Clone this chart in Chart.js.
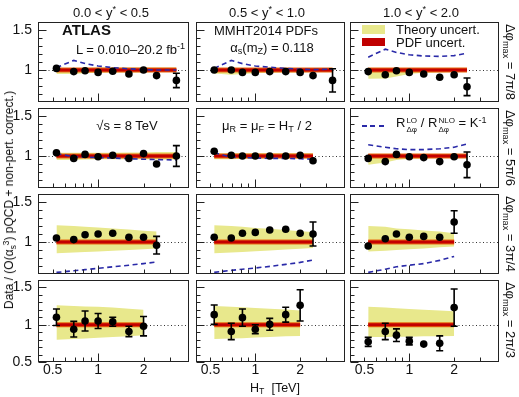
<!DOCTYPE html>
<html>
<head>
<meta charset="utf-8">
<script src="https://cdn.jsdelivr.net/npm/chart.js@4.4.1/dist/chart.umd.min.js"></script>
<style>
  body { margin: 0; background: #fff; }
  #page { position: relative; width: 519px; height: 397px; overflow: hidden;
          font-family: "Liberation Sans", Arial, sans-serif; color: #111; }
  canvas.panel { position: absolute; }
  .txt { position: absolute; white-space: nowrap; font-size: 13px; line-height: 1; }
  sub, sup { font-size: 70%; line-height: 0; }
  sub { vertical-align: -0.3em; }
  sup { vertical-align: 0.5em; }
  .ss { display: inline-flex; flex-direction: column; font-size: 62%; line-height: 1.1;
        vertical-align: 0.45em; margin-left: 1px; }
  .sw { position: absolute; }
</style>
</head>
<body>
<div id="page"></div>
<script>
// H_T bin centres in TeV (same binning in every panel)
const htBins = [0.53, 0.69, 0.82, 1.0, 1.25, 1.6, 2.0, 2.44, 3.3];
// column / row labels
const yStarEdges = ['0.0', '0.5', '1.0', '2.0'];
const dphiMax = ['7π/8', '5π/6', '3π/4', '2π/3'];
// tick labels and tick marks
const xTickLabels = [0.5, 1, 2];
const xMajorTicks = [1];
const xMinorTicks = [0.5, 0.6, 0.7, 0.8, 0.9, 2, 3];
const yTickLabels = [1, 1.5];
const yTickLabelsLow = [0.5, 1, 1.5];
const yMinorTicks = [0.6, 0.7, 0.8, 0.9, 1.1, 1.2, 1.3, 1.4];

// data / theory, one list per panel [row = dphi_max][col = y*]
const ratio = [
  [[1.02, 0.98, 0.99, 0.97, 0.985, 0.95, 1.0, 0.93, 0.87],
   [1.0, 1.0, 0.97, 0.97, 0.98, 0.98, 0.97, 0.93, 0.87],
   [0.98, 0.94, 0.99, 0.97, 0.95, 0.91, 0.94, 0.79]],
  [[1.04, 0.97, 1.02, 0.99, 1.01, 0.97, 1.03, 0.90, 1.0],
   [1.06, 1.01, 1.0, 1.0, 1.0, 1.0, 1.01, 0.94],
   [0.97, 0.93, 1.02, 0.99, 0.98, 0.93, 0.99, 0.89]],
  [[1.05, 1.03, 1.09, 1.10, 1.11, 1.06, 1.06, 0.96],
   [1.06, 1.05, 1.11, 1.12, 1.15, 1.16, 1.11, 1.10],
   [0.95, 1.04, 1.10, 1.06, 1.07, 1.06, 1.25]],
  [[1.10, 0.94, 1.05, 1.05, 1.04, 0.91, 0.98],
   [1.135, 0.91, 1.095, 0.94, 1.005, 1.135, 1.26],
   [0.77, 0.91, 0.86, 0.78, 0.74, 0.75, 1.23]]
];
const ratioErr = [
  [[0.005, 0.005, 0.005, 0.005, 0.005, 0.005, 0.008, 0.02, 0.09],
   [0.005, 0.005, 0.005, 0.005, 0.005, 0.008, 0.01, 0.03, 0.145],
   [0.005, 0.005, 0.005, 0.005, 0.005, 0.01, 0.025, 0.11]],
  [[0.005, 0.005, 0.005, 0.005, 0.005, 0.008, 0.01, 0.035, 0.13],
   [0.005, 0.005, 0.005, 0.005, 0.005, 0.005, 0.01, 0.04],
   [0.005, 0.005, 0.005, 0.005, 0.005, 0.01, 0.04, 0.16]],
  [[0.03, 0.04, 0.03, 0.03, 0.015, 0.015, 0.04, 0.11],
   [0.03, 0.035, 0.03, 0.02, 0.015, 0.02, 0.04, 0.15],
   [0.03, 0.04, 0.04, 0.02, 0.02, 0.03, 0.14]],
  [[0.11, 0.105, 0.135, 0.10, 0.06, 0.07, 0.13],
   [0.13, 0.11, 0.115, 0.06, 0.08, 0.10, 0.21],
   [0.06, 0.11, 0.085, 0.05, 0.04, 0.10, 0.25]]
];
// theory uncertainty band edges
const theoryLo = [
  [[0.95, 0.95, 0.96, 0.965, 0.97, 0.97, 0.97, 0.975, 0.975],
   [0.955, 0.94, 0.95, 0.96, 0.965, 0.97, 0.97, 0.975, 0.975],
   [0.89, 0.895, 0.92, 0.95, 0.965, 0.97, 0.975, 0.975]],
  [[0.95, 0.95, 0.955, 0.96, 0.96, 0.96, 0.96, 0.955, 0.955],
   [0.96, 0.96, 0.965, 0.97, 0.97, 0.97, 0.97, 0.97],
   [0.89, 0.92, 0.95, 0.965, 0.97, 0.975, 0.975, 0.975]],
  [[0.86, 0.87, 0.875, 0.88, 0.89, 0.9, 0.91, 0.92],
   [0.86, 0.87, 0.875, 0.885, 0.895, 0.905, 0.915, 0.925],
   [0.88, 0.89, 0.9, 0.91, 0.92, 0.935, 0.945]],
  [[0.80, 0.81, 0.815, 0.825, 0.835, 0.845, 0.86],
   [0.81, 0.815, 0.82, 0.83, 0.835, 0.845, 0.85],
   [0.835, 0.835, 0.84, 0.84, 0.845, 0.845, 0.85]]
];
const theoryHi = [
  [[1.025, 1.025, 1.025, 1.03, 1.03, 1.03, 1.03, 1.03, 1.03],
   [1.025, 1.025, 1.025, 1.025, 1.025, 1.025, 1.025, 1.025, 1.025],
   [1.02, 1.02, 1.02, 1.02, 1.02, 1.02, 1.02, 1.02]],
  [[1.04, 1.04, 1.04, 1.04, 1.04, 1.045, 1.045, 1.05, 1.05],
   [1.035, 1.035, 1.035, 1.035, 1.035, 1.035, 1.035, 1.035],
   [1.02, 1.02, 1.02, 1.02, 1.02, 1.025, 1.025, 1.025]],
  [[1.21, 1.2, 1.19, 1.18, 1.17, 1.155, 1.14, 1.13],
   [1.21, 1.2, 1.19, 1.175, 1.165, 1.15, 1.135, 1.125],
   [1.2, 1.19, 1.17, 1.16, 1.145, 1.13, 1.11]],
  [[1.26, 1.25, 1.245, 1.24, 1.23, 1.215, 1.2],
   [1.25, 1.24, 1.235, 1.225, 1.215, 1.205, 1.19],
   [1.24, 1.23, 1.22, 1.21, 1.2, 1.19, 1.18]]
];
// R(LO)/R(NLO) = 1/K, off scale in the last row
const kInv = [
  [[1.03, 1.12, 1.08, 1.05, 1.03, 1.015, 1.005, 1.0, 1.0],
   [1.02, 1.12, 1.08, 1.05, 1.035, 1.02, 1.01, 1.005, 1.01],
   [1.16, 1.26, 1.22, 1.19, 1.175, 1.17, 1.18, 1.21]],
  [[1.03, 0.99, 0.985, 0.98, 0.975, 0.965, 0.96, 0.955, 0.95],
   [1.04, 0.985, 0.98, 0.975, 0.97, 0.97, 0.965, 0.96],
   [1.14, 1.11, 1.09, 1.08, 1.08, 1.09, 1.11, 1.15]],
  [[0.62, 0.64, 0.655, 0.67, 0.69, 0.71, 0.73, 0.75],
   [0.62, 0.645, 0.66, 0.675, 0.695, 0.72, 0.745, 0.775],
   [0.62, 0.66, 0.69, 0.71, 0.73, 0.77, 0.82]],
  [null, null, null]
];

const page = document.getElementById('page');
const colLeft = [38, 194, 348];
const rowTop = [20, 106, 192, 278];
const panelW = 153, panelH = 84;
const yellow = 'rgb(232,232,140)';
const tickFont = { family: 'Liberation Sans, Arial, sans-serif', size: 14 };

// frame, inner ticks, dotted line at 1 and error bars
const decor = {
  id: 'decor',
  beforeDatasetsDraw(chart) {
    const { ctx, chartArea: a, scales: { y } } = chart;
    const py = Math.round(y.getPixelForValue(1)) + 0.5;
    ctx.save();
    ctx.strokeStyle = '#333';
    ctx.lineWidth = 1;
    ctx.setLineDash([1, 2.5]);
    ctx.beginPath();
    ctx.moveTo(a.left, py);
    ctx.lineTo(a.right, py);
    ctx.stroke();
    ctx.restore();
  },
  beforeDatasetDraw(chart, args) {
    if (args.index !== 0) return;
    const ds = chart.data.datasets[0];
    const { ctx, scales: { x, y } } = chart;
    ctx.save();
    ctx.strokeStyle = '#000';
    ctx.lineWidth = 1.6;
    ds.data.forEach((p, i) => {
      const px = x.getPixelForValue(p.x);
      const y1 = y.getPixelForValue(p.y - ds.errors[i]);
      const y2 = y.getPixelForValue(p.y + ds.errors[i]);
      if (y1 - y2 < 7) return;
      ctx.beginPath();
      ctx.moveTo(px, y1); ctx.lineTo(px, y2);
      ctx.moveTo(px - 3.5, y1); ctx.lineTo(px + 3.5, y1);
      ctx.moveTo(px - 3.5, y2); ctx.lineTo(px + 3.5, y2);
      ctx.stroke();
    });
    ctx.restore();
  },
  afterDraw(chart) {
    const { ctx, chartArea: a, scales: { x, y } } = chart;
    const L = Math.round(a.left) + 0.5, R = Math.round(a.right) - 0.5;
    const T = Math.round(a.top) + 0.5, B = Math.round(a.bottom) - 0.5;
    ctx.save();
    ctx.strokeStyle = '#222';
    ctx.lineWidth = 1;
    ctx.strokeRect(L, T, R - L, B - T);
    ctx.beginPath();
    y.ticks.forEach(t => {
      const py = Math.round(y.getPixelForValue(t.value)) + 0.5;
      ctx.moveTo(L, py); ctx.lineTo(L + 8, py);
    });
    yMinorTicks.filter(v => v > y.min && v < y.max).forEach(v => {
      const py = Math.round(y.getPixelForValue(v)) + 0.5;
      ctx.moveTo(L, py); ctx.lineTo(L + 4, py);
    });
    xMajorTicks.forEach(v => {
      const px = Math.round(x.getPixelForValue(v)) + 0.5;
      ctx.moveTo(px, B); ctx.lineTo(px, B - 8);
    });
    xMinorTicks.forEach(v => {
      const px = Math.round(x.getPixelForValue(v)) + 0.5;
      ctx.moveTo(px, B); ctx.lineTo(px, B - 4);
    });
    ctx.stroke();
    ctx.restore();
  }
};

function makePanel(r, c) {
  const n = ratio[r][c].length;
  const xs = htBins.slice(0, n);
  const pts = arr => arr.map((v, i) => ({ x: xs[i], y: v }));
  const showY = c === 0, showX = r === 3;
  const padL = showY ? 38 : 2, padB = showX ? 24 : 2;

  const cv = document.createElement('canvas');
  cv.className = 'panel';
  cv.width = panelW + padL + 2;
  cv.height = panelH + 2 + padB;
  cv.style.left = (colLeft[c] - padL) + 'px';
  cv.style.top = (rowTop[r] - 2) + 'px';
  cv.style.width = cv.width + 'px';
  cv.style.height = cv.height + 'px';
  page.appendChild(cv);

  const datasets = [
    { data: pts(ratio[r][c]), errors: ratioErr[r][c], showLine: false, pointRadius: 3.8,
      pointBackgroundColor: '#000', pointBorderColor: '#000', pointBorderWidth: 0, order: 0 },
    { data: pts(xs.map(() => 1)), borderColor: '#c40000', borderWidth: 3, pointRadius: 0, order: 2 },
    { data: pts(xs.map(() => 1)), borderColor: '#e86a10', borderWidth: 5, pointRadius: 0, order: 3 },
    { data: pts(theoryHi[r][c]), borderColor: 'rgba(0,0,0,0)', borderWidth: 0, pointRadius: 0,
      fill: '+1', backgroundColor: yellow, order: 4 },
    { data: pts(theoryLo[r][c]), borderColor: 'rgba(0,0,0,0)', borderWidth: 0, pointRadius: 0,
      fill: false, order: 5 }
  ];
  if (kInv[r][c]) {
    datasets.push({ data: pts(kInv[r][c]), borderColor: '#2a2aa8', borderWidth: 1.6,
      borderDash: [5, 3.5], pointRadius: 0, order: 1 });
  }

  new Chart(cv, {
    type: 'line',
    data: { datasets },
    options: {
      responsive: false,
      devicePixelRatio: 1,
      animation: false,
      events: [],
      layout: { padding: 2 },
      plugins: { legend: { display: false }, tooltip: { enabled: false } },
      scales: {
        x: {
          type: 'logarithmic', min: 0.4, max: 4, display: showX,
          grid: { display: false, drawTicks: false }, border: { display: false },
          ticks: { autoSkip: false, maxRotation: 0, padding: 0, font: tickFont, color: '#111',
                   callback: v => String(v) },
          afterBuildTicks: s => { s.ticks = xTickLabels.map(v => ({ value: v })); },
          afterFit: s => { s.height = showX ? 22 : 0; s.paddingLeft = 0; s.paddingRight = 0; }
        },
        y: {
          type: 'linear', min: r === 3 ? 0.5 : 0.6, max: 1.6, display: showY,
          grid: { display: false, drawTicks: false }, border: { display: false },
          ticks: { autoSkip: false, padding: 6, font: tickFont, color: '#111',
                   callback: v => String(v) },
          afterBuildTicks: s => {
            s.ticks = (r === 3 ? yTickLabelsLow : yTickLabels).map(v => ({ value: v }));
          },
          afterFit: s => { s.width = showY ? 36 : 0; s.paddingTop = 0; s.paddingBottom = 0; }
        }
      }
    },
    plugins: [decor]
  });
}

for (let r = 0; r < 4; r++) {
  for (let c = 0; c < 3; c++) makePanel(r, c);
}

// text
function addText(html, x, y, opts = {}) {
  const d = document.createElement('div');
  d.className = 'txt';
  d.innerHTML = html;
  d.style.left = x + 'px';
  d.style.top = y + 'px';
  if (opts.size) d.style.fontSize = opts.size + 'px';
  if (opts.bold) d.style.fontWeight = 'bold';
  let tf = opts.left ? 'translate(0,-50%)' : 'translate(-50%,-50%)';
  if (opts.rot) tf += ' rotate(' + opts.rot + 'deg)';
  d.style.transform = tf;
  page.appendChild(d);
}
function addSwatch(x, y, w, h, bg) {
  const d = document.createElement('div');
  d.className = 'sw';
  Object.assign(d.style, { left: x + 'px', top: y + 'px', width: w + 'px', height: h + 'px', background: bg });
  page.appendChild(d);
}

for (let c = 0; c < 3; c++) {
  addText(`${yStarEdges[c]} &lt; y<sup>*</sup> &lt; ${yStarEdges[c + 1]}`, colLeft[c] + 73, 12);
}
for (let r = 0; r < 4; r++) {
  addText(`Δφ<sub>max</sub> = ${dphiMax[r]}`, 510, rowTop[r] + 42, { rot: 90 });
}
addText('Data / (O(α<sub>s</sub><sup>3</sup>) pQCD + non-pert. correct.)', 9, 200, { size: 12, rot: -90 });
addText('H<sub>T</sub> &nbsp;[TeV]', 275, 388, { size: 12.5 });

addText('ATLAS', 62, 29, { left: true, bold: true, size: 15 });
addText('L = 0.010–20.2 fb<sup>-1</sup>', 76, 49, { left: true });
addText('MMHT2014 PDFs', 266, 30);
addText('α<sub>s</sub>(m<sub>Z</sub>) = 0.118', 272, 47);

addSwatch(362, 25, 23, 9, yellow);
addSwatch(362, 38, 23, 8, '#c00000');
addText('Theory uncert.', 396, 29, { left: true });
addText('PDF uncert.', 396, 42, { left: true });

addText('√s = 8 TeV', 127, 125);
addText('μ<sub>R</sub> = μ<sub>F</sub> = H<sub>T</sub> / 2', 267, 125);
addSwatch(362, 125, 24, 2, 'repeating-linear-gradient(to right, #2a2aa8 0 5px, transparent 5px 8.5px)');
addText('R<span class="ss"><span>LO</span><span>Δφ</span></span> / R<span class="ss"><span>NLO</span><span>Δφ</span></span> = K<sup>-1</sup>',
  396, 126, { left: true });
</script>
</body>
</html>
